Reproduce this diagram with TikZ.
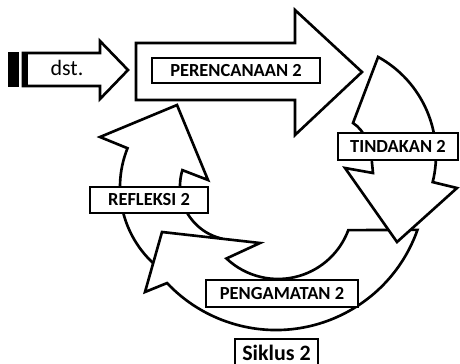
\documentclass[tikz,border=0pt]{standalone}
\usepackage{fontspec}
\setmainfont{Carlito}
\usepackage{tikz}
\usetikzlibrary{positioning}

\begin{document}
\begin{tikzpicture}[
  x=0.02cm, y=-0.02cm,
  blockarrow/.style={draw=black, line width=1.5pt, fill=white, line join=miter},
  box/.style={rectangle, draw=black, line width=0.9pt, fill=white, inner sep=0pt,
              font=\bfseries\fontsize{10.5}{12}\selectfont, align=center}
]
\useasboundingbox (0,0) rectangle (460,363);
\clip (0,0) rectangle (460,363);
\fill[white] (0,0) rectangle (460,363);

% Refleksi (left)
\draw[blockarrow] ([shift={(224,187)}]125:104) arc[start angle=125, end angle=201.9, radius=104]
  -- (100,137) -- (177,105) -- (208,180)
  -- ([shift={(234,186)}]197.1:54) arc[start angle=197.1, end angle=105, radius=54] -- cycle;

% Pengamatan (bottom)
\draw[blockarrow] ([shift={(276,180)}]19.4:150) arc[start angle=19.4, end angle=136.6, radius=150]
  -- (145,292) -- (162,232) -- (260,243)
  -- ([shift={(278,204)}]133.4:75) arc[start angle=133.4, end angle=20.4, radius=75] -- cycle;

% Tindakan (right)
\draw[blockarrow] ([shift={(324,155)}]-61.1:112) arc[start angle=-61.1, end angle=14, radius=112]
  -- (457,188) -- (397,242) -- (345,168) -- (373,173) -- (372,163)
  .. controls (371,145) and (364,130) .. (353,123) -- cycle;

% Perencanaan (top)
\draw[blockarrow] (136,43) -- (295,43) -- (295,10) -- (362,72) -- (295,135) -- (295,100) -- (136,100) -- cycle;

% dst. arrow
\draw[blockarrow] (23,53) -- (100,53) -- (100,41) -- (128,70) -- (100,99) -- (100,86) -- (23,86) -- cycle;
\fill[black] (8,52) rectangle (19,87);
\fill[black] (23,52) rectangle (28,87);
\node[font=\fontsize{12.5}{14}\selectfont] (dst) at (67,68) {dst.};

% Labels
\node[box, minimum width=3.36cm, minimum height=0.5cm] (perencanaan) at (236,70.5) {PERENCANAAN 2};
\node[box, minimum width=2.4cm, minimum height=0.54cm] (tindakan) at (398,146.5) {TINDAKAN 2};
\node[box, minimum width=2.36cm, minimum height=0.52cm] (refleksi) at (149,200) {REFLEKSI 2};
\node[box, minimum width=3.04cm, minimum height=0.54cm] (pengamatan) at (282,293.5) {PENGAMATAN 2};
\node[box, minimum width=1.66cm, minimum height=0.54cm,
      font=\bfseries\fontsize{12.5}{14}\selectfont] (siklus) at (276.5,352.5) {Siklus 2};

\end{tikzpicture}
\end{document}
